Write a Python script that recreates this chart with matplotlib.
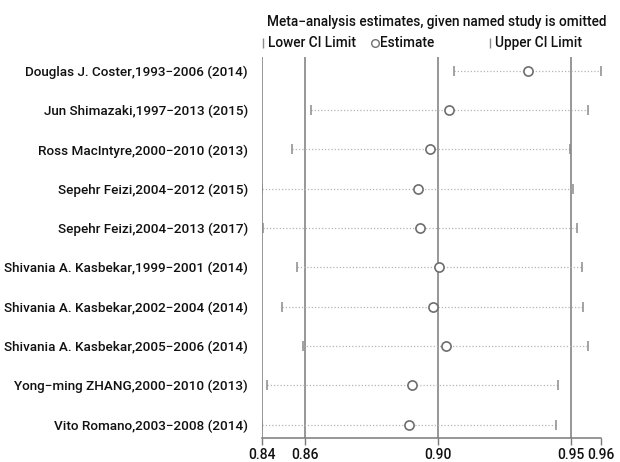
import matplotlib
matplotlib.use("Agg")
import matplotlib.pyplot as plt
from matplotlib.lines import Line2D

plt.rcParams['font.family'] = ['Roboto', 'DejaVu Sans']
plt.rcParams['font.weight'] = 'medium'

studies = [
    "Douglas J. Coster,1993\u22122006 (2014)",
    "Jun Shimazaki,1997\u22122013 (2015)",
    "Ross MacIntyre,2000\u22122010 (2013)",
    "Sepehr Feizi,2004\u22122012 (2015)",
    "Sepehr Feizi,2004\u22122013 (2017)",
    "Shivania A. Kasbekar,1999\u22122001 (2014)",
    "Shivania A. Kasbekar,2002\u22122004 (2014)",
    "Shivania A. Kasbekar,2005\u22122006 (2014)",
    "Yong\u2212ming ZHANG,2000\u22122010 (2013)",
    "Vito Romano,2003\u22122008 (2014)",
]
estimate = [0.9332, 0.9060, 0.8994, 0.8951, 0.8958, 0.9024, 0.9003, 0.9048, 0.8932, 0.8921]
lower_ci = [0.9076, 0.8582, 0.8517, 0.8415, 0.8416, 0.8534, 0.8484, 0.8557, 0.8430, 0.8414]
upper_ci = [0.9583, 0.9539, 0.9476, 0.9486, 0.9499, 0.9517, 0.9521, 0.9538, 0.9434, 0.9429]

tick_values = [0.8413, 0.8562, 0.9020, 0.9479, 0.9583]
tick_labels = ["0.84", "0.86", "0.90", "0.95", "0.96"]
ref_lines = tick_values[:4]

fig = plt.figure(figsize=(6.2, 4.62), dpi=100)
ax = fig.add_axes([261.7/620, 1-438.3/462, (601-261.7)/620, (438.3-57)/462])

grey = '#7a7a7a'
for xv in ref_lines:
    ax.axvline(xv, color=grey, lw=1.1, zorder=1)

ypos = list(range(1, len(studies)+1))
for y, lo, es, hi in zip(ypos, lower_ci, estimate, upper_ci):
    ax.plot([lo, hi], [y, y], ls=(0, (1, 1.6)), color='#b5b5b5', lw=0.9, zorder=2)
    ax.plot([lo, hi], [y, y], ls='none', marker='|', ms=7.5, mew=1.1, color='#8a8a8a', zorder=3)
    ax.plot([es], [y], ls='none', marker='o', ms=6.6, mfc='white', mec='#6e6e6e', mew=1.2, zorder=4)

ax.set_xlim(tick_values[0], tick_values[-1])
ax.set_ylim(len(studies)+0.35, 0.65)
ax.set_yticks(ypos)
ax.set_yticklabels(studies, fontsize=9.7, color='#111111')
ax.tick_params(axis='y', length=0, pad=10)
ax.set_xticks(tick_values)
ax.set_xticklabels(tick_labels, fontsize=10, color='#111111')
ax.tick_params(axis='x', length=5, color=grey, width=1.0, pad=2)
for s in ['top', 'right', 'left']:
    ax.spines[s].set_visible(False)
ax.spines['bottom'].set_color(grey)
ax.spines['bottom'].set_linewidth(1.1)

fig.text(436.5/620, 1-22/462, "Meta\u2212analysis estimates, given named study is omitted",
         ha='center', va='center', fontsize=9.85, color='#111111')
ly = 1-43/462
fig.text(268/620, ly, "Lower CI Limit", ha='left', va='center', fontsize=9.85, color='#111111')
fig.text(380/620, ly, "Estimate", ha='left', va='center', fontsize=9.85, color='#111111')
fig.text(495/620, ly, "Upper CI Limit", ha='left', va='center', fontsize=9.85, color='#111111')
fig.add_artist(Line2D([263/620], [ly], marker='|', ms=7, mew=1.0, color='#8a8a8a', transform=fig.transFigure))
fig.add_artist(Line2D([490/620], [ly], marker='|', ms=7, mew=1.0, color='#8a8a8a', transform=fig.transFigure))
fig.add_artist(Line2D([375/620], [ly], marker='o', ms=5.5, mfc='white', mec='#707070', mew=1.0, transform=fig.transFigure))

fig.savefig("out.png", dpi=100)
